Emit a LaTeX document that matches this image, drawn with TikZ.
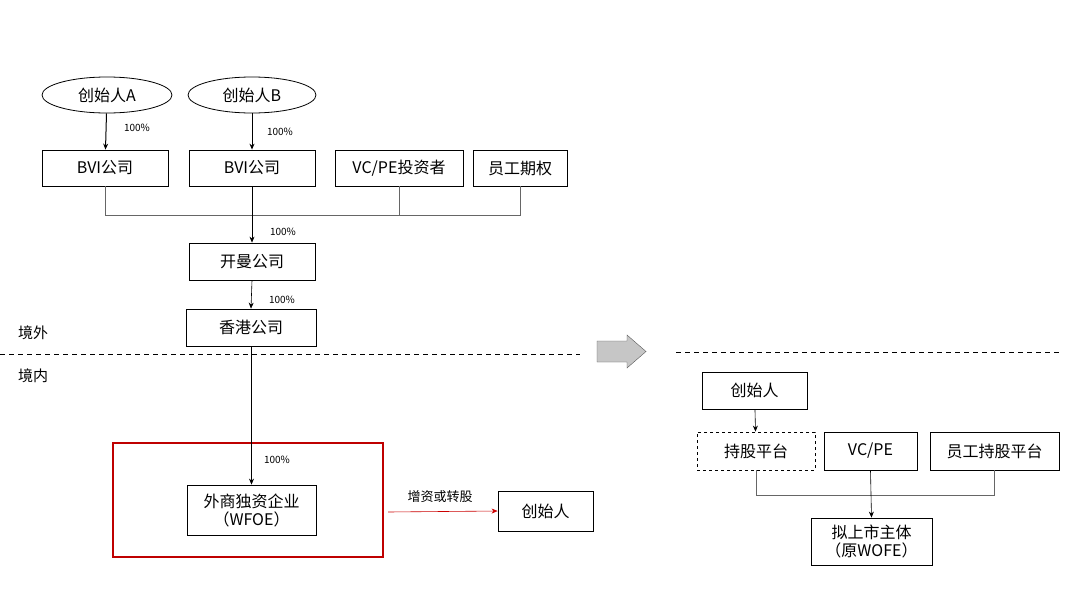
\documentclass[tikz,border=0pt]{standalone}
\usepackage{fontspec}
\setmainfont{Noto Sans CJK SC}
\usetikzlibrary{shapes.geometric,shapes.arrows,arrows.meta}
\begin{document}
\begin{tikzpicture}[x=1pt,y=-1pt,
 bx/.style={draw,thick,inner sep=0pt,font=\fontsize{16}{18}\selectfont,align=center},
 ln/.style={draw=gray!80!black,line width=0.6pt},
 ar/.style={ln,-{Stealth[length=6pt,width=5pt]},black},
 pc/.style={font=\fontsize{10}{12}\selectfont}]
\useasboundingbox[fill=white] (0,0) rectangle (1080,608);
\node[bx,ellipse,minimum width=130,minimum height=36] (fa) at (107,95) {创始人A};
\node[bx,ellipse,minimum width=128,minimum height=36] (fb) at (252,95) {创始人B};
\node[bx,minimum width=126,minimum height=36] (b1) at (105,168) {BVI公司};
\node[bx,minimum width=126,minimum height=36] (b2) at (252,168) {BVI公司};
\node[bx,minimum width=128,minimum height=36] (vc) at (399,168) {VC/PE投资者};
\node[bx,minimum width=94,minimum height=36] (yg) at (520,168) {员工期权};
\draw[ar,line width=1pt] (fa) -- (b1);
\draw[ar,line width=1pt] (fb) -- (b2);
\node[pc] at (137,128) {100\%};
\node[pc] at (280,132) {100\%};
\node[bx,minimum width=126,minimum height=37] (km) at (252,261.5) {开曼公司};
\node[bx,minimum width=130,minimum height=37] (hk) at (251,327.5) {香港公司};
\coordinate (j) at (252,215);
\draw[ln] (b1.south) |- (yg.south |- j) -- (yg.south);
\draw[ln] (vc.south) -- (vc.south |- j);
\draw[ar] (b2.south) -- (km.north);
\node[pc] at (283,232) {100\%};
\draw[ar] (km.south) -- (hk.north);
\node[pc] at (282,300) {100\%};
\node[font=\fontsize{15}{17}\selectfont] (jw) at (33,333) {境外};
\node[font=\fontsize{15}{17}\selectfont] (jn) at (33,376) {境内};
\coordinate (d1) at (0,354); \coordinate (d2) at (580,354);
\draw[dashed,thick,dash pattern=on 5pt off 4pt] (d1) -- (d2);
\node[draw=red!75!black,line width=2pt,minimum width=270,minimum height=114] (red) at (248,500) {};
\node[bx,minimum width=129,minimum height=50] (wf) at (251.5,510) {外商独资企业\\（WFOE）};
\draw[ar] (hk.south -| wf.north) -- (wf.north);
\node[pc] at (277,460) {100\%};
\node[bx,minimum width=95,minimum height=40] (cs) at (545.5,511) {创始人};
\draw[ln,draw=red!80!black,-{Stealth[length=6pt,width=5pt]}] (388,512) -- (cs.west);
\node[font=\fontsize{13}{15}\selectfont] at (440,497) {增资或转股};
\draw[draw=gray!70!black,fill=gray!45] (597,341) -- (627,341) -- (627,335) -- (646,351.5) -- (627,368) -- (627,362) -- (597,362) -- cycle;
\coordinate (e1) at (676,352); \coordinate (e2) at (1060,352);
\draw[dashed,thick,dash pattern=on 5pt off 4pt] (e1) -- (e2);
\node[bx,minimum width=105,minimum height=37] (rc) at (754.5,390.5) {创始人};
\node[bx,dashed,minimum width=118,minimum height=38] (cg) at (756,451) {持股平台};
\node[bx,minimum width=93,minimum height=38] (rv) at (870.5,451) {VC/PE};
\node[bx,minimum width=129,minimum height=38] (ygc) at (994.5,451) {员工持股平台};
\node[bx,minimum width=121,minimum height=47] (ns) at (871.5,541.5) {拟上市主体\\（原WOFE）};
\draw[ar] (rc) -- (cg);
\coordinate (k) at (871,495);
\draw[ln] (cg.south) |- (ygc.south |- k) -- (ygc.south);
\draw[ar] (rv.south) -- (ns.north);
\end{tikzpicture}
\end{document}
